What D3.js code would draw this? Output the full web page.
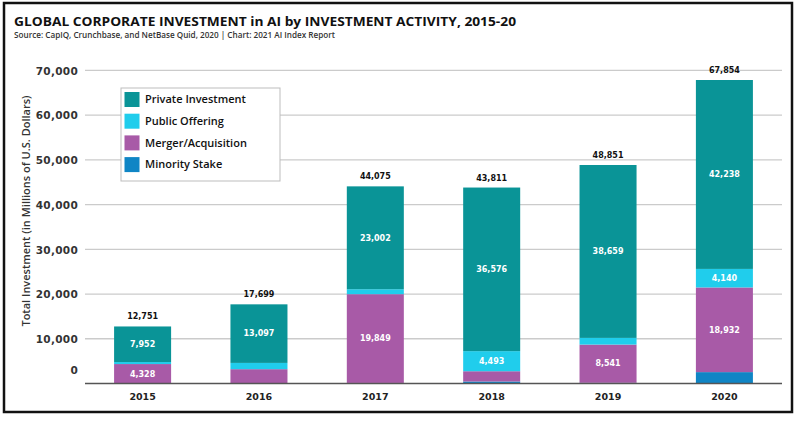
<!DOCTYPE html>
<html>
<head>
<meta charset="utf-8">
<script src="https://cdn.jsdelivr.net/npm/d3@7"></script>
<style>
  html, body { margin: 0; padding: 0; background: #fff; }
  svg { display: block; }
</style>
</head>
<body>
<svg id="chart" width="800" height="421"></svg>
<script>
// ---- data ----
const years = ["2015", "2016", "2017", "2018", "2019", "2020"];
const privateInvestment = [7952, 13097, 23002, 36576, 38659, 42238];
const publicOffering    = [451, 1400, 1100, 4493, 1490, 4140];
const mergerAcquisition = [4328, 3100, 19849, 2292, 8541, 18932];
const minorityStake     = [20, 102, 124, 450, 161, 2544];
const totals = [12751, 17699, 44075, 43811, 48851, 67854];
const seriesNames = ["Minority Stake", "Merger/Acquisition", "Public Offering", "Private Investment"];
const legendOrder = ["Private Investment", "Public Offering", "Merger/Acquisition", "Minority Stake"];
const yTicks = [0, 10000, 20000, 30000, 40000, 50000, 60000, 70000];
const colors = {
  "Private Investment": "#0a9497",
  "Public Offering": "#20cdec",
  "Merger/Acquisition": "#a85aa7",
  "Minority Stake": "#0f85c5"
};
const titleText = "GLOBAL CORPORATE INVESTMENT in AI by INVESTMENT ACTIVITY, 2015-20";
const subtitleText = "Source: CapIQ, Crunchbase, and NetBase Quid, 2020 | Chart: 2021 AI Index Report";
const yTitle = "Total Investment (in Millions of U.S. Dollars)";

const seriesValues = {
  "Minority Stake": minorityStake,
  "Merger/Acquisition": mergerAcquisition,
  "Public Offering": publicOffering,
  "Private Investment": privateInvestment
};
const rows = years.map((y, i) => {
  const r = { year: y };
  seriesNames.forEach(s => r[s] = seriesValues[s][i]);
  return r;
});

const svg = d3.select("#chart");
const fmt = d3.format(",");

svg.append("rect").attr("x", 0).attr("y", 0).attr("width", 800).attr("height", 421).attr("fill", "#fff");

const x = d3.scaleBand().domain(years).range([85, 782]).paddingInner(0.51).paddingOuter(0.25);
const y = d3.scaleLinear().domain([0, 70000]).range([383.5, 70.4]);

// gridlines
svg.append("g").selectAll("line").data(yTicks.filter(t => t > 0)).join("line")
  .attr("x1", 85).attr("x2", 782)
  .attr("y1", d => y(d)).attr("y2", d => y(d))
  .attr("stroke", "#cbcbcb").attr("stroke-width", 1.3);

// y axis labels
const yAxis = d3.axisLeft(y).tickValues(yTicks).tickFormat(fmt).tickSize(0).tickPadding(0);
const yg = svg.append("g").attr("transform", "translate(78,0)").call(yAxis);
yg.select(".domain").remove();
yg.selectAll("text")
  .attr("font-family", "DejaVu Sans").attr("font-weight", "bold").attr("font-size", 10.5)
  .attr("letter-spacing", 0.3).attr("fill", "#333")
  .attr("dy", d => d === 0 ? "-1.0em" : "0.35em");

// legend box (drawn before bars; covers gridlines)
const lg = svg.append("g");
lg.append("rect").attr("x", 121).attr("y", 88).attr("width", 159).attr("height", 93)
  .attr("fill", "#fff").attr("stroke", "#bdbdbd").attr("stroke-width", 1);
legendOrder.forEach((name, i) => {
  const yy = 92 + i * 21.7;
  lg.append("rect").attr("x", 124.5).attr("y", yy).attr("width", 15).attr("height", 15).attr("fill", colors[name]);
  lg.append("text").attr("x", 145).attr("y", yy + 7.5).attr("dy", "0.35em")
    .attr("font-family", "Open Sans").attr("font-weight", 600).attr("font-size", 11)
    .attr("fill", "#111").text(name);
});

// stacked bars
const stack = d3.stack().keys(seriesNames);
const stacked = stack(rows);
const barG = svg.append("g");
stacked.forEach(layer => {
  barG.append("g").attr("fill", colors[layer.key])
    .selectAll("rect").data(layer).join("rect")
    .attr("x", d => x(d.data.year))
    .attr("width", x.bandwidth())
    .attr("y", d => y(d[1]))
    .attr("height", d => y(d[0]) - y(d[1]));
});

// inside value labels
stacked.forEach(layer => {
  barG.append("g").selectAll("text").data(layer.filter(d => (d[1] - d[0]) >= 4000)).join("text")
    .attr("x", d => x(d.data.year) + x.bandwidth() / 2)
    .attr("y", d => (y(d[0]) + y(d[1])) / 2)
    .attr("dy", "0.35em").attr("text-anchor", "middle")
    .attr("font-family", "DejaVu Sans").attr("font-weight", "bold").attr("font-size", 8)
    .attr("fill", "#fff")
    .text(d => fmt(d[1] - d[0]));
});

// total labels
svg.append("g").selectAll("text").data(years).join("text")
  .attr("x", d => x(d) + x.bandwidth() / 2)
  .attr("y", (d, i) => y(totals[i]) - 7)
  .attr("text-anchor", "middle")
  .attr("font-family", "DejaVu Sans").attr("font-weight", "bold").attr("font-size", 8)
  .attr("fill", "#111")
  .text((d, i) => fmt(totals[i]));

// baseline
svg.append("line").attr("x1", 85).attr("x2", 782).attr("y1", y(0)).attr("y2", y(0))
  .attr("stroke", "#555").attr("stroke-width", 1.5);

// x axis
const xAxis = d3.axisBottom(x).tickSize(0).tickPadding(0);
const xg = svg.append("g").attr("transform", "translate(0,397)").call(xAxis);
xg.select(".domain").remove();
xg.selectAll("text")
  .attr("font-family", "DejaVu Sans").attr("font-weight", "bold").attr("font-size", 9.5)
  .attr("fill", "#222").attr("dy", "0.35em").attr("y", 0);

// y title
svg.append("text")
  .attr("transform", "translate(30,211) rotate(-90)")
  .attr("text-anchor", "middle")
  .attr("font-family", "Open Sans").attr("font-weight", 600).attr("font-size", 11)
  .attr("fill", "#333").text(yTitle);

// title & subtitle
svg.append("text").attr("x", 14).attr("y", 26)
  .attr("font-family", "Open Sans").attr("font-weight", 700).attr("font-size", 13)
  .attr("fill", "#111").attr("textLength", 502).attr("lengthAdjust", "spacingAndGlyphs")
  .text(titleText);
svg.append("text").attr("x", 14).attr("y", 38)
  .attr("font-family", "Open Sans").attr("font-weight", 600).attr("font-size", 8)
  .attr("fill", "#333").attr("textLength", 321).attr("lengthAdjust", "spacingAndGlyphs")
  .text(subtitleText);

// frame
svg.append("rect").attr("x", 4).attr("y", 3).attr("width", 788).attr("height", 409)
  .attr("fill", "none").attr("stroke", "#111").attr("stroke-width", 2.5);
</script>
</body>
</html>
